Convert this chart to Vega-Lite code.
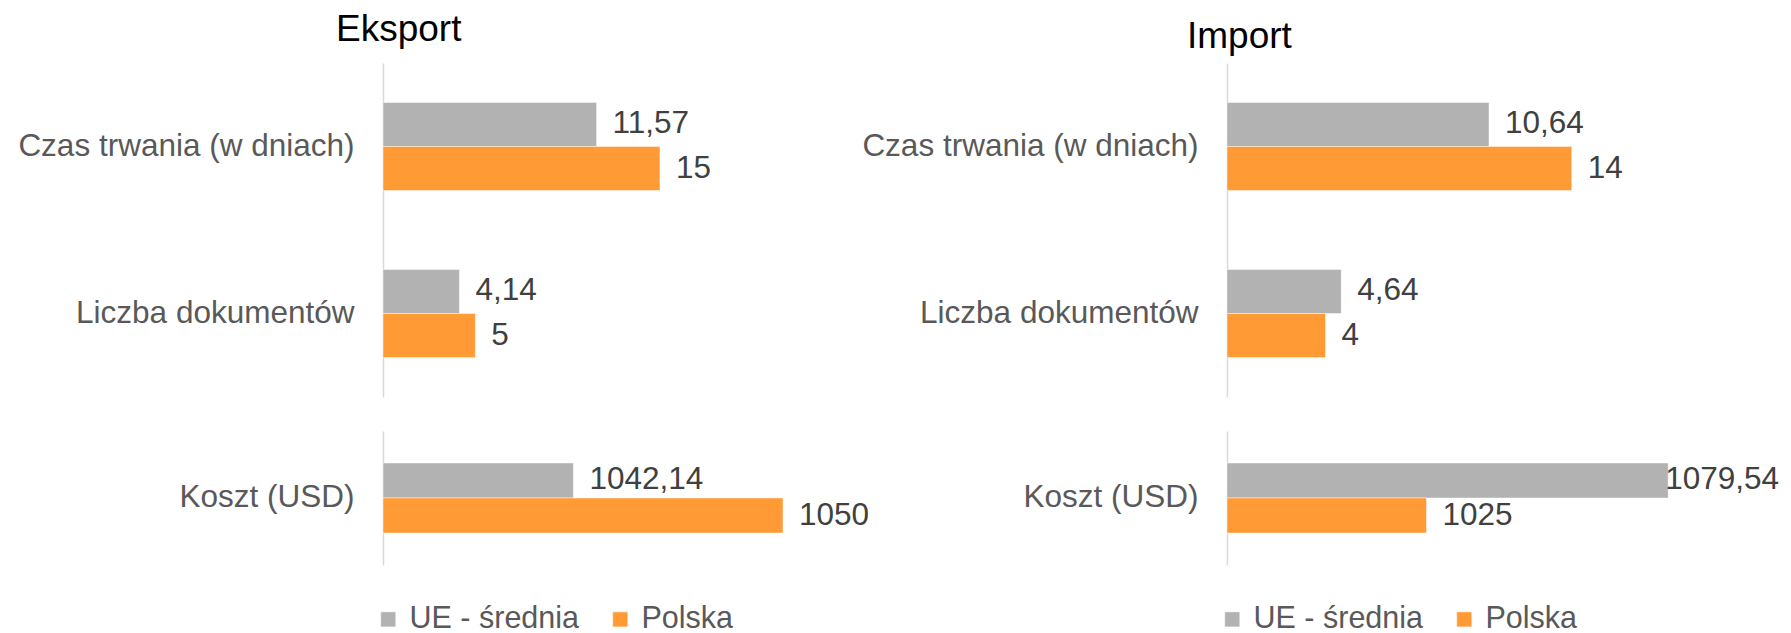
{
  "$schema": "https://vega.github.io/schema/vega-lite/v6.json",
  "padding": {"left": 17, "top": 11, "right": 5, "bottom": 0},
  "autosize": {"type": "pad"},
  "background": "#ffffff",
  "config": {
    "font": "Liberation Sans",
    "view": {"stroke": null},
    "locale": {"number": {"decimal": ",", "thousands": " ", "grouping": [3], "currency": ["", ""]}},
    "axisY": {"domainColor": "#d9d9d9", "domainWidth": 1.5, "ticks": false, "grid": false, "title": null, "labelFontSize": 31.5, "labelColor": "#595959", "labelPadding": 29, "labelLimit": 600, "labelFont": "Liberation Sans"},
    "text": {"fontSize": 31.5, "color": "#404040", "baseline": "middle", "align": "left"},
    "bar": {"stroke": "#ffffff", "strokeWidth": 1, "strokeOpacity": 0.45}
  },
  "datasets": {
    "d": [
      {"panel": "Eksport", "kat": "Czas trwania (w dniach)", "seria": "UE - średnia", "v": 11.57},
      {"panel": "Eksport", "kat": "Czas trwania (w dniach)", "seria": "Polska", "v": 15},
      {"panel": "Eksport", "kat": "Liczba dokumentów", "seria": "UE - średnia", "v": 4.14},
      {"panel": "Eksport", "kat": "Liczba dokumentów", "seria": "Polska", "v": 5},
      {"panel": "Eksport", "kat": "Koszt (USD)", "seria": "UE - średnia", "v": 1042.14},
      {"panel": "Eksport", "kat": "Koszt (USD)", "seria": "Polska", "v": 1050},
      {"panel": "Import", "kat": "Czas trwania (w dniach)", "seria": "UE - średnia", "v": 10.64},
      {"panel": "Import", "kat": "Czas trwania (w dniach)", "seria": "Polska", "v": 14},
      {"panel": "Import", "kat": "Liczba dokumentów", "seria": "UE - średnia", "v": 4.64},
      {"panel": "Import", "kat": "Liczba dokumentów", "seria": "Polska", "v": 4},
      {"panel": "Import", "kat": "Koszt (USD)", "seria": "UE - średnia", "v": 1079.54},
      {"panel": "Import", "kat": "Koszt (USD)", "seria": "Polska", "v": 1025}
    ]
  },
  "data": {"name": "d"},
  "columns": 2,
  "bounds": "flush",
  "align": "each",
  "spacing": {"row": 34, "column": 364},
  "resolve": {"scale": {"color": "independent", "yOffset": "independent", "y": "independent", "x": "independent"}, "legend": {"color": "independent"}},
  "concat": [
    {
      "width": 480, "height": 334,
      "title": {"text": "Eksport", "anchor": "start", "frame": "group", "dx": -47, "offset": -15, "baseline": "alphabetic", "fontSize": 37, "fontWeight": "normal", "color": "#000000", "font": "Liberation Sans"},
      "transform": [{"filter": "datum.panel === 'Eksport' && datum.kat !== 'Koszt (USD)'"}],
      "encoding": {
        "y": {"field": "kat", "type": "nominal", "sort": ["Czas trwania (w dniach)", "Liczba dokumentów"], "scale": {"paddingInner": 0.473, "paddingOuter": 0.2365}},
        "yOffset": {"field": "seria", "type": "nominal", "sort": ["UE - średnia", "Polska"], "scale": {"paddingInner": 0, "paddingOuter": 0}},
        "x": {"field": "v", "type": "quantitative", "scale": {"domain": [0, 26], "nice": false}, "axis": null}
      },
      "layer": [
        {"mark": {"type": "bar"}, "encoding": {"color": {"field": "seria", "type": "nominal", "sort": ["UE - średnia", "Polska"], "scale": {"domain": ["UE - średnia", "Polska"], "range": ["#b2b2b2", "#ff9a35"]}, "legend": null}}},
        {"mark": {"type": "text", "dx": 16}, "encoding": {"text": {"field": "v", "type": "quantitative", "format": ""}}}
      ]
    },
    {
      "width": 554, "height": 334,
      "title": {"text": "Import", "anchor": "start", "frame": "group", "dx": -40, "offset": -22, "baseline": "alphabetic", "fontSize": 37, "fontWeight": "normal", "color": "#000000", "font": "Liberation Sans"},
      "transform": [{"filter": "datum.panel === 'Import' && datum.kat !== 'Koszt (USD)'"}],
      "encoding": {
        "y": {"field": "kat", "type": "nominal", "sort": ["Czas trwania (w dniach)", "Liczba dokumentów"], "scale": {"paddingInner": 0.473, "paddingOuter": 0.2365}},
        "yOffset": {"field": "seria", "type": "nominal", "sort": ["UE - średnia", "Polska"], "scale": {"paddingInner": 0, "paddingOuter": 0}},
        "x": {"field": "v", "type": "quantitative", "scale": {"domain": [0, 22.5], "nice": false}, "axis": null}
      },
      "layer": [
        {"mark": {"type": "bar"}, "encoding": {"color": {"field": "seria", "type": "nominal", "sort": ["UE - średnia", "Polska"], "scale": {"domain": ["UE - średnia", "Polska"], "range": ["#b2b2b2", "#ff9a35"]}, "legend": null}}},
        {"mark": {"type": "text", "dx": 16}, "encoding": {"text": {"field": "v", "type": "quantitative", "format": ""}}}
      ]
    },
    {
      "width": 480, "height": 134,
      "transform": [{"filter": "datum.panel === 'Eksport' && datum.kat === 'Koszt (USD)'"}],
      "encoding": {
        "y": {"field": "kat", "type": "nominal", "scale": {"paddingInner": 0, "paddingOuter": 0.457}},
        "yOffset": {"field": "seria", "type": "nominal", "sort": ["UE - średnia", "Polska"], "scale": {"paddingInner": 0, "paddingOuter": 0}},
        "x": {"field": "v", "type": "quantitative", "scale": {"domain": [1035, 1053], "nice": false, "zero": false}, "axis": null}
      },
      "layer": [
        {"mark": {"type": "bar"}, "encoding": {"x2": {"datum": 1035}, "color": {"field": "seria", "type": "nominal", "sort": ["UE - średnia", "Polska"], "scale": {"domain": ["UE - średnia", "Polska"], "range": ["#b2b2b2", "#ff9a35"]},
          "legend": {"orient": "none", "legendX": -10, "legendY": 173, "direction": "horizontal", "title": null, "symbolType": "square", "symbolSize": 225, "symbolStrokeWidth": 0, "labelFontSize": 30.5, "labelColor": "#595959", "labelFont": "Liberation Sans", "labelOffset": 6, "columnPadding": 25, "padding": 0, "labelLimit": 400}}}},
        {"mark": {"type": "text", "dx": 16}, "encoding": {"text": {"field": "v", "type": "quantitative", "format": ""}}}
      ]
    },
    {
      "width": 554, "height": 134,
      "transform": [{"filter": "datum.panel === 'Import' && datum.kat === 'Koszt (USD)'"}],
      "encoding": {
        "y": {"field": "kat", "type": "nominal", "scale": {"paddingInner": 0, "paddingOuter": 0.457}},
        "yOffset": {"field": "seria", "type": "nominal", "sort": ["UE - średnia", "Polska"], "scale": {"paddingInner": 0, "paddingOuter": 0}},
        "x": {"field": "v", "type": "quantitative", "scale": {"domain": [980, 1105], "nice": false, "zero": false}, "axis": null}
      },
      "layer": [
        {"mark": {"type": "bar"}, "encoding": {"x2": {"datum": 980}, "color": {"field": "seria", "type": "nominal", "sort": ["UE - średnia", "Polska"], "scale": {"domain": ["UE - średnia", "Polska"], "range": ["#b2b2b2", "#ff9a35"]},
          "legend": {"orient": "none", "legendX": -10, "legendY": 173, "direction": "horizontal", "title": null, "symbolType": "square", "symbolSize": 225, "symbolStrokeWidth": 0, "labelFontSize": 30.5, "labelColor": "#595959", "labelFont": "Liberation Sans", "labelOffset": 6, "columnPadding": 25, "padding": 0, "labelLimit": 400}}}},
        {"transform": [{"filter": "datum.seria === 'Polska'"}], "mark": {"type": "text", "dx": 16}, "encoding": {"text": {"field": "v", "type": "quantitative", "format": ""}}},
        {"transform": [{"filter": "datum.seria === 'UE - średnia'"}], "mark": {"type": "text", "dx": -3}, "encoding": {"text": {"field": "v", "type": "quantitative", "format": ""}}}
      ]
    }
  ]
}
